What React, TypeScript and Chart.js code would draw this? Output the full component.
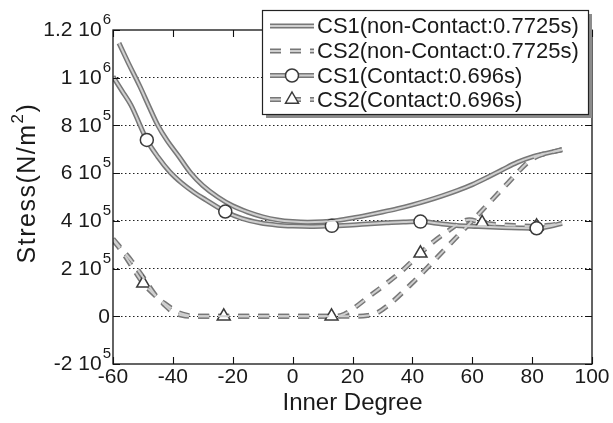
import React, { useEffect, useRef } from "react";
import { Chart, registerables } from "chart.js";
Chart.register(...registerables);

const FONT = '"Liberation Sans", Arial, Helvetica, sans-serif';

const SERIES_LABELS = [
  "CS1(non-Contact:0.7725s)",
  "CS2(non-Contact:0.7725s)",
  "CS1(Contact:0.696s)",
  "CS2(Contact:0.696s)",
];

// CS1 non-contact (solid)
const CS1_NC_DEG = [-58, -55, -51, -48, -45, -42, -38, -34, -30, -25, -20, -15, -10, -5, 0, 5, 10, 15, 20, 25, 30, 35, 40, 45, 50, 55, 60, 65, 70, 75, 80, 85, 90];
const CS1_NC_STRESS = [1145000, 1065000, 963000, 880000, 800000, 738000, 670000, 600000, 548000, 500000, 463000, 437000, 417000, 404000, 397000, 394000, 396000, 402000, 412000, 424000, 437000, 451000, 467000, 485000, 505000, 527000, 552000, 582000, 614000, 645000, 668000, 684000, 698000];

// CS2 non-contact (dashed)
const CS2_NC_DEG = [-60, -57, -54, -50, -45.4, -42, -38.7, -35, -32, -20, 0, 20, 25, 28, 32, 40, 47, 55, 60, 66, 72, 79, 82, 86, 90];
const CS2_NC_STRESS = [325000, 280000, 235000, 165000, 82000, 47000, 19000, 4000, 0, 0, 0, 0, 3000, 13000, 47000, 140000, 230000, 335000, 400000, 480000, 560000, 650000, 672000, 686000, 699000];

// CS1 contact (solid, circles)
const CS1_C_DEG = [-60, -57, -54, -48.7, -45, -41, -37, -33, -29, -22.5, -17, -11, -5, 0, 6, 13.1, 20, 26, 32, 37, 42.7, 48, 53, 58, 64, 70, 76, 81.5, 86, 90];
const CS1_C_STRESS = [1005000, 945000, 885000, 739000, 668000, 605000, 558000, 520000, 488000, 439000, 410000, 392000, 382000, 378000, 376000, 379000, 383000, 388000, 392000, 395000, 397000, 390000, 383000, 378000, 375000, 372000, 370000, 369000, 377000, 390000];
const CS1_C_MARKERS = [-48.7, -22.5, 13.1, 42.7, 81.5];

// CS2 contact (dashed, triangles)
const CS2_C_DEG = [-60, -57, -54, -49.9, -46, -43, -40, -37, -34, -23, -10, 0, 13, 16, 20, 25, 30, 36, 42.7, 47, 52, 56, 59, 63.3, 68, 74, 81.5, 86, 90];
const CS2_C_STRESS = [320000, 272000, 215000, 138000, 88000, 50000, 18000, 4000, 0, 0, 0, 0, 0, 3000, 30000, 78000, 125000, 185000, 264000, 312000, 358000, 392000, 405000, 392000, 385000, 381000, 377000, 382000, 390000];
const CS2_C_MARKERS = [-49.9, -23, 13, 42.7, 63.3, 81.5];

const X_TICKS = [-60, -40, -20, 0, 20, 40, 60, 80, 100];
const Y_TICKS = [-200000, 0, 200000, 400000, 600000, 800000, 1000000, 1200000];
const Y_TICK_BASE = ["-2 10", "0", "2 10", "4 10", "6 10", "8 10", "1 10", "1.2 10"];
const Y_TICK_EXP = ["5", "", "5", "5", "5", "5", "6", "6"];
const X_TITLE = "Inner Degree";
const Y_TITLE_MAIN = "Stress(N/m";
const Y_TITLE_SUP = "2";
const Y_TITLE_END = ")";

const DASH = [11, 9];
const OUTER = "#777777";
const INNER = "#cfcfcf";

type Style = { dash: number[]; marker: string | false; markers: number[] };
const STYLES: Style[] = [
  { dash: [], marker: false, markers: [] },
  { dash: DASH, marker: false, markers: [] },
  { dash: [], marker: "circle", markers: CS1_C_MARKERS },
  { dash: DASH, marker: "triangle", markers: CS2_C_MARKERS },
];

function pts(xs: number[], ys: number[]) {
  return xs.map((x, i) => ({ x, y: ys[i] }));
}

const SERIES_DATA = [
  pts(CS1_NC_DEG, CS1_NC_STRESS),
  pts(CS2_NC_DEG, CS2_NC_STRESS),
  pts(CS1_C_DEG, CS1_C_STRESS),
  pts(CS2_C_DEG, CS2_C_STRESS),
];

function markerRadius(style: Style) {
  return style.marker === "triangle" ? 7.5 : 6.5;
}

const decor = {
  id: "decor",
  afterDraw(chart: any) {
    const { ctx, chartArea: a, scales } = chart;
    const x = scales.x;
    const y = scales.y;
    ctx.save();
    // frame
    ctx.strokeStyle = "#111";
    ctx.lineWidth = 1.3;
    ctx.setLineDash([]);
    ctx.strokeRect(a.left, a.top, a.right - a.left, a.bottom - a.top);
    // ticks
    ctx.lineWidth = 1.1;
    ctx.beginPath();
    X_TICKS.forEach((v) => {
      const px = Math.round(x.getPixelForValue(v)) + 0.5;
      ctx.moveTo(px, a.bottom);
      ctx.lineTo(px, a.bottom - 7);
      ctx.moveTo(px, a.top);
      ctx.lineTo(px, a.top + 7);
    });
    Y_TICKS.forEach((v) => {
      const py = Math.round(y.getPixelForValue(v)) + 0.5;
      ctx.moveTo(a.left, py);
      ctx.lineTo(a.left + 7, py);
      ctx.moveTo(a.right, py);
      ctx.lineTo(a.right - 7, py);
    });
    ctx.stroke();

    ctx.fillStyle = "#1a1a1a";
    // x tick labels
    ctx.font = `21px ${FONT}`;
    ctx.textAlign = "center";
    ctx.textBaseline = "middle";
    X_TICKS.forEach((v) => {
      ctx.fillText(String(v), x.getPixelForValue(v), a.bottom + 13);
    });
    // y tick labels
    Y_TICKS.forEach((v, i) => {
      const py = y.getPixelForValue(v);
      const right = a.left - 2;
      const exp = Y_TICK_EXP[i];
      ctx.textAlign = "right";
      let expW = 0;
      if (exp) {
        ctx.font = `15px ${FONT}`;
        expW = ctx.measureText(exp).width;
        ctx.fillText(exp, right, py - 10);
      }
      ctx.font = `21px ${FONT}`;
      ctx.fillText(Y_TICK_BASE[i], right - expW - 1, py + 0.5);
    });
    // x title
    ctx.font = `24px ${FONT}`;
    ctx.textAlign = "center";
    ctx.fillText(X_TITLE, (a.left + a.right) / 2, a.bottom + 39);
    // y title
    ctx.save();
    ctx.translate(28, a.top + 153);
    ctx.rotate(-Math.PI / 2);
    ctx.textAlign = "left";
    (ctx as any).letterSpacing = "1.5px";
    ctx.font = `25px ${FONT}`;
    const w1 = ctx.measureText(Y_TITLE_MAIN).width;
    const w3 = ctx.measureText(Y_TITLE_END).width;
    ctx.font = `17px ${FONT}`;
    const w2 = ctx.measureText(Y_TITLE_SUP).width;
    const total = w1 + w2 + w3;
    let sx = -total / 2;
    ctx.font = `25px ${FONT}`;
    ctx.fillText(Y_TITLE_MAIN, sx, 0);
    sx += w1;
    ctx.font = `17px ${FONT}`;
    ctx.fillText(Y_TITLE_SUP, sx, -10);
    sx += w2;
    ctx.font = `25px ${FONT}`;
    ctx.fillText(Y_TITLE_END, sx, 0);
    ctx.restore();

    // legend
    const bx = a.left + 149;
    const by = a.top - 20;
    const bw = a.right - 4 - bx;
    const bh = 104;
    ctx.fillStyle = "#8c8c8c";
    ctx.fillRect(bx + 4, by + 4, bw, bh);
    ctx.fillStyle = "#ffffff";
    ctx.fillRect(bx, by, bw, bh);
    ctx.strokeStyle = "#222";
    ctx.lineWidth = 1.2;
    ctx.strokeRect(bx + 0.5, by + 0.5, bw, bh);
    const rowY = [by + 16, by + 41, by + 65.5, by + 89.5];
    SERIES_LABELS.forEach((label, i) => {
      const st = STYLES[i];
      const ry = rowY[i];
      const x1 = bx + 8;
      const x2 = bx + 52;
      [
        [OUTER, 5],
        [INNER, 2],
      ].forEach(([c, w]) => {
        ctx.strokeStyle = c as string;
        ctx.lineWidth = w as number;
        ctx.setLineDash(st.dash);
        ctx.beginPath();
        ctx.moveTo(x1, ry);
        ctx.lineTo(x2, ry);
        ctx.stroke();
      });
      ctx.setLineDash([]);
      if (st.marker) {
        const cx = (x1 + x2) / 2;
        const r = markerRadius(st);
        ctx.fillStyle = "#fff";
        ctx.strokeStyle = "#3a3a3a";
        ctx.lineWidth = 1.5;
        ctx.beginPath();
        if (st.marker === "circle") {
          ctx.arc(cx, ry, r, 0, Math.PI * 2);
        } else {
          const s = r;
          ctx.moveTo(cx, ry - s);
          ctx.lineTo(cx + s * 0.866, ry + s * 0.5);
          ctx.lineTo(cx - s * 0.866, ry + s * 0.5);
          ctx.closePath();
        }
        ctx.fill();
        ctx.stroke();
      }
      ctx.fillStyle = "#1a1a1a";
      ctx.font = `22px ${FONT}`;
      ctx.textAlign = "left";
      ctx.textBaseline = "middle";
      ctx.fillText(label, bx + 55, ry + 1);
    });
    ctx.restore();
  },
};

export default function App() {
  const ref = useRef<HTMLCanvasElement | null>(null);
  useEffect(() => {
    if (!ref.current) return;
    const datasets: any[] = [];
    SERIES_LABELS.forEach((label, i) => {
      const st = STYLES[i];
      const data = SERIES_DATA[i];
      datasets.push({
        label,
        data,
        borderColor: OUTER,
        borderWidth: 5,
        borderDash: st.dash,
        pointRadius: 0,
        pointHoverRadius: 0,
        cubicInterpolationMode: "monotone",
        order: 1,
        fill: false,
      });
      datasets.push({
        label,
        data,
        borderColor: INNER,
        borderWidth: 2,
        borderDash: st.dash,
        pointRadius: data.map((p) => (st.markers.includes(p.x) ? markerRadius(st) : 0)),
        pointHoverRadius: 0,
        pointStyle: st.marker || "circle",
        pointBackgroundColor: "#ffffff",
        pointBorderColor: "#3a3a3a",
        pointBorderWidth: 1.5,
        cubicInterpolationMode: "monotone",
        order: 0,
        fill: false,
      });
    });
    const chart = new Chart(ref.current, {
      type: "line",
      data: { datasets },
      options: {
        responsive: false,
        animation: false,
        events: [],
        layout: { padding: { left: 113, top: 30, right: 21, bottom: 59 } },
        plugins: { legend: { display: false }, tooltip: { enabled: false }, title: { display: false } },
        scales: {
          x: {
            type: "linear",
            min: -60,
            max: 100,
            ticks: { display: false },
            grid: { display: false, drawTicks: false },
            border: { display: false },
            title: { display: false },
          },
          y: {
            type: "linear",
            min: -200000,
            max: 1200000,
            afterBuildTicks: (scale: any) => {
              scale.ticks = Y_TICKS.map((v) => ({ value: v }));
            },
            ticks: { display: false },
            grid: {
              drawTicks: false,
              lineWidth: 1,
              color: (c: any) =>
                c.tick && c.tick.value > -200000 && c.tick.value < 1200000 ? "#222222" : "rgba(0,0,0,0)",
            },
            border: { display: false, dash: [1.5, 2.5] },
            title: { display: false },
          },
        },
      },
      plugins: [decor],
    });
    return () => chart.destroy();
  }, []);
  return (
    <div style={{ position: "fixed", left: 0, top: 0, width: 613, height: 423, background: "#fff" }}>
      <canvas ref={ref} width={613} height={423} style={{ display: "block", width: 613, height: 423 }} />
    </div>
  );
}
